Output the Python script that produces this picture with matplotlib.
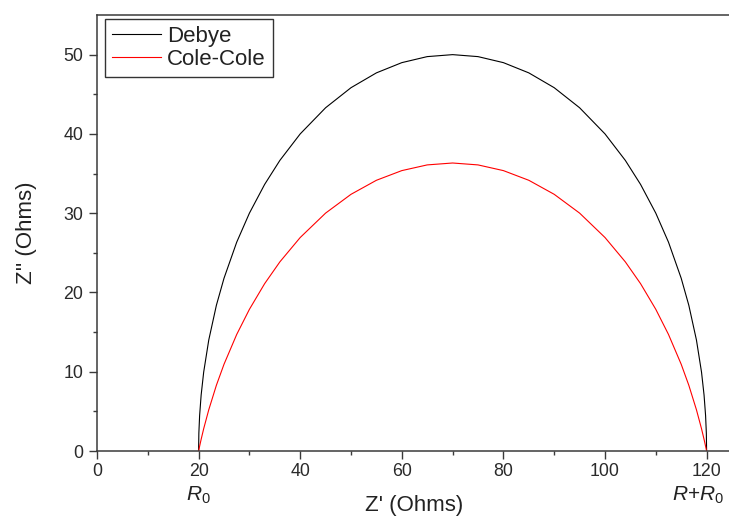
import matplotlib
matplotlib.use("Agg")
import matplotlib.pyplot as plt
import matplotlib.transforms as mtransforms

plt.rcParams['font.family'] = ['Liberation Sans', 'DejaVu Sans']
plt.rcParams['mathtext.fontset'] = 'custom'
plt.rcParams['mathtext.rm'] = 'Liberation Sans'
plt.rcParams['mathtext.it'] = 'Liberation Sans:italic'

# impedance arcs, real part (Ohms)
z_re = [20, 20.05, 20.2, 20.5, 21, 22, 23.5, 25, 27.5, 30, 33, 36, 40, 45, 50, 55, 60, 65, 70,
        75, 80, 85, 90, 95, 100, 104, 107, 110, 112.5, 115, 116.5, 118, 119, 119.5, 119.8, 119.95, 120]
# imaginary part, ideal Debye relaxation
debye_im = [0, 2.24, 4.47, 7.05, 9.95, 14.0, 18.38, 21.79, 26.34, 30.0, 33.63, 36.66, 40.0, 43.30,
            45.83, 47.70, 48.99, 49.75, 50.0,
            49.75, 48.99, 47.70, 45.83, 43.30, 40.0, 36.66, 33.63, 30.0, 26.34, 21.79, 18.38, 14.0,
            9.95, 7.05, 4.47, 2.24, 0]
# imaginary part, depressed Cole-Cole arc
cole_im = [0, 0.15, 0.60, 1.47, 2.81, 5.20, 8.29, 10.94, 14.70, 17.87, 21.11, 23.86, 26.93, 30.01,
           32.38, 34.15, 35.37, 36.09, 36.33,
           36.09, 35.37, 34.15, 32.38, 30.01, 26.93, 23.86, 21.11, 17.87, 14.70, 10.94, 8.29, 5.20,
           2.81, 1.47, 0.60, 0.15, 0]

r0 = 20
r_plus_r0 = 120

W, H = 729, 516
fig = plt.figure(figsize=(W / 100, H / 100), dpi=100)
ax = fig.add_axes([97 / W, 65 / H, 635 / W, 436 / H])

ax.plot(z_re, debye_im, color='black', lw=0.8, label='Debye')
ax.plot(z_re, cole_im, color='#ff0000', lw=0.8, label='Cole-Cole')

ax.set_xlim(0, 125)
ax.set_ylim(0, 55)
ax.set_xticks([0, 20, 40, 60, 80, 100, 120])
ax.set_xticks([10, 30, 50, 70, 90, 110], minor=True)
ax.set_yticks([0, 10, 20, 30, 40, 50])
ax.set_yticks([5, 15, 25, 35, 45], minor=True)

edge = '#3a3a3a'
for side in ['left', 'bottom', 'top', 'right']:
    ax.spines[side].set_color(edge)
    ax.spines[side].set_linewidth(1.1)
ax.tick_params(which='both', direction='out', color=edge, width=1.0, labelcolor='#2a2a2a',
               top=False, right=False)
ax.tick_params(which='major', length=6, labelsize=12.8)
ax.tick_params(which='minor', length=3)
ax.tick_params(axis='x', which='major', pad=3)
ax.tick_params(axis='y', which='major', pad=4)

ax.set_xlabel("Z' (Ohms)", fontsize=16, color='#222222')
ax.set_ylabel("Z'' (Ohms)", fontsize=16, color='#222222')
ax.xaxis.set_label_coords(0.5, -0.102)
ax.yaxis.set_label_coords(-0.095, 0.5)

# R0 and R+R0 markers under the axis
trans = mtransforms.blended_transform_factory(ax.transData, ax.transAxes)
ax.text(r0, -0.113, r'$R_{\mathit{0}}$', transform=trans, ha='center', va='baseline',
        fontsize=15, color='#222222', clip_on=False)
ax.text(r_plus_r0 - 1.7, -0.113, r'$R\mathrm{+}R_{\mathit{0}}$', transform=trans, ha='center',
        va='baseline', fontsize=15, color='#222222', clip_on=False)

leg = ax.legend(loc='upper left', bbox_to_anchor=(8 / 635, 1 - 4 / 436), borderaxespad=0,
                fontsize=16, frameon=True, fancybox=False, handlelength=2.2, handletextpad=0.3,
                labelspacing=0.1, borderpad=0.3)
leg.get_frame().set_edgecolor('black')
leg.get_frame().set_linewidth(1.0)
for t in leg.get_texts():
    t.set_color('#222222')

fig.savefig('out.png', dpi=100)
